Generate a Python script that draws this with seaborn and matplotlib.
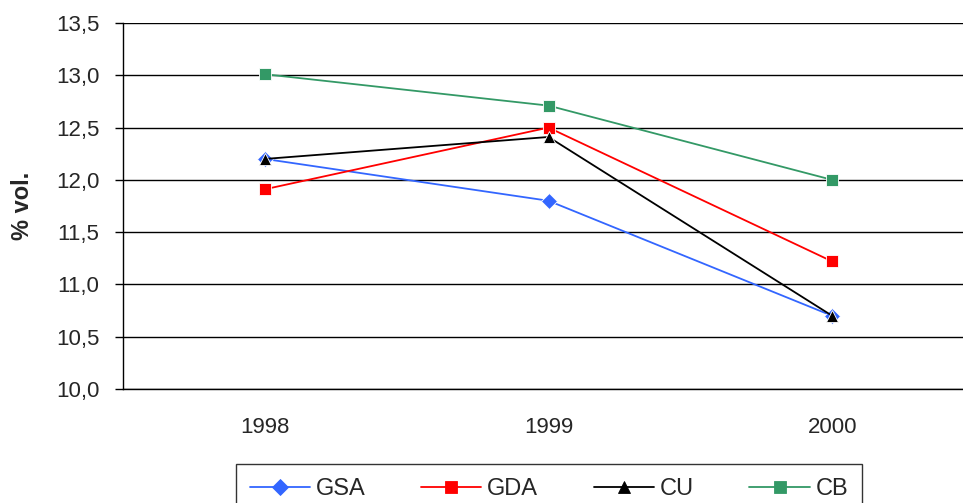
import matplotlib
matplotlib.use("Agg")
import matplotlib.pyplot as plt
from matplotlib.ticker import FixedLocator, FuncFormatter
from matplotlib.lines import Line2D
import seaborn as sns
import pandas as pd

years = ["1998", "1999", "2000"]
series_names = ["GSA", "GDA", "CU", "CB"]
gsa = [12.2, 11.8, 10.7]
gda = [11.91, 12.5, 11.22]
cu = [12.2, 12.41, 10.7]
cb = [13.01, 12.71, 12.0]
y_ticks = [10.0, 10.5, 11.0, 11.5, 12.0, 12.5, 13.0, 13.5]

colors = {"GSA": "#3366FF", "GDA": "#FF0000", "CU": "#000000", "CB": "#339966"}
markers = {"GSA": "D", "GDA": "s", "CU": "^", "CB": "s"}

rows = []
for name, vals in zip(series_names, [gsa, gda, cu, cb]):
    for i, (yr, v) in enumerate(zip(years, vals)):
        rows.append({"pos": i, "year": yr, "value": v, "series": name})
df = pd.DataFrame(rows)

sns.set_style("white")
plt.rcParams["font.family"] = ["Liberation Sans", "DejaVu Sans"]

fig = plt.figure(figsize=(9.63, 5.03), dpi=100)
ax = fig.add_axes([123 / 963, 1 - 389 / 503, (974 - 123) / 963, (389 - 23) / 503])

sns.lineplot(data=df, x="pos", y="value", hue="series", style="series",
             hue_order=series_names, style_order=series_names,
             palette=colors, markers=markers, dashes=False,
             markersize=8, linewidth=1.3, markeredgewidth=0.6, ax=ax, legend=False)

ax.set_xlim(-0.5, 2.5)
ax.set_ylim(10.0, 13.5)
ax.yaxis.set_major_locator(FixedLocator(y_ticks))
ax.yaxis.set_major_formatter(FuncFormatter(lambda v, p: f"{v:.1f}".replace(".", ",")))
for v in y_ticks:
    ax.axhline(v, color="black", lw=1.0, zorder=0.5)

ax.set_xticks(range(len(years)))
ax.set_xticklabels(years)
ax.set_xticks([-0.5, 0.5, 1.5, 2.5], minor=True)
ax.tick_params(axis="x", which="major", length=0, pad=20, labelsize=16)
ax.tick_params(axis="x", which="minor", length=6, width=1, color="black", direction="out")
ax.tick_params(axis="y", length=6, width=1, color="black", direction="out", labelsize=16, pad=11, left=True)

for s in ["top", "right"]:
    ax.spines[s].set_visible(False)
for s in ["left", "bottom"]:
    ax.spines[s].set_color("black")
    ax.spines[s].set_linewidth(1.0)

ax.set_xlabel("")
ax.set_ylabel("% vol.", fontsize=17, fontweight="bold")
ax.yaxis.set_label_coords((34 - 123) / 851, 0.5)

handles = [Line2D([0], [0], color=colors[n], marker=markers[n], markersize=8,
                  lw=1.3, markeredgewidth=0.6) for n in series_names]
leg = fig.legend(handles, series_names, loc="upper center", bbox_to_anchor=(549 / 963, 1 - 464 / 503),
                 ncol=4, frameon=True, fancybox=False, fontsize=17, handlelength=2.55,
                 columnspacing=2.35, handletextpad=0.25, borderpad=0.6, borderaxespad=0, numpoints=1)
leg.get_frame().set_edgecolor("black")
leg.get_frame().set_linewidth(1.0)

fig.savefig("out.png", dpi=100)
